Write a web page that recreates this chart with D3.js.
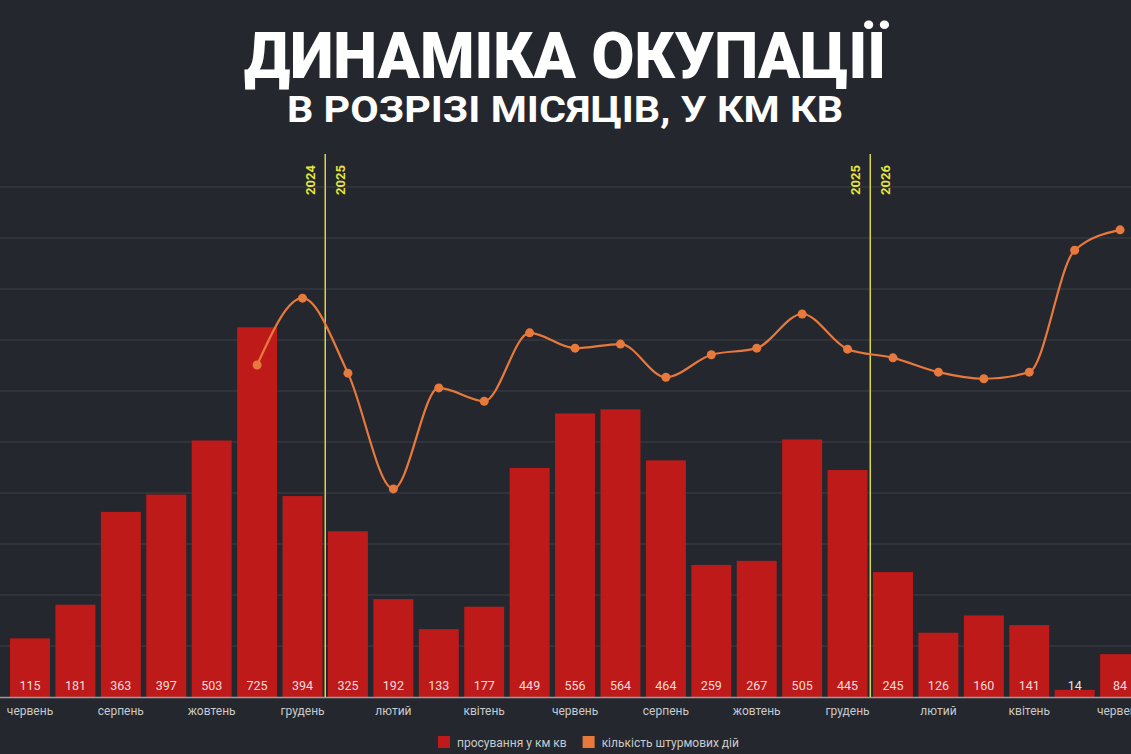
<!DOCTYPE html>
<html><head><meta charset="utf-8">
<script src="https://cdn.jsdelivr.net/npm/d3@7"></script>
<style>
html,body{margin:0;padding:0;background:#24272d;}
svg{display:block;}
</style></head>
<body>
<svg id="chart" width="1131" height="754"></svg>
<script>
// ---- data ----
const months = ["червень","липень","серпень","вересень","жовтень","листопад","грудень",
  "січень","лютий","березень","квітень","травень","червень","липень","серпень","вересень","жовтень","листопад","грудень",
  "січень","лютий","березень","квітень","травень","червень"];
const areaKm2 = [115,181,363,397,503,725,394,325,192,133,177,449,556,564,464,259,267,505,445,245,126,160,141,14,84];
const assaults = [null,null,null,null,null,6510,7820,6350,4080,6060,5800,7140,6840,6920,6270,6710,6840,7510,6820,6650,6370,6240,6370,8760,9160];
const tickIdx = [0,2,4,6,8,10,12,14,16,18,20,22,24];
const yearBreaks = [{after:6, left:"2024", right:"2025"},{after:18, left:"2025", right:"2026"}];
const gridTicks = [100,200,300,400,500,600,700,800,900,1000];
const legendItems = [{label:"просування у км кв", color:"#bf1a1a"},{label:"кількість штурмових дій", color:"#e8793c"}];

const svg = d3.select("#chart");
const W = 1131, H = 754;
svg.append("rect").attr("width",W).attr("height",H).attr("fill","#24272d");

// title
svg.append("text").attr("x",565).attr("y",78).attr("text-anchor","middle")
  .attr("font-family","Roboto").attr("font-weight",900).attr("font-size",64)
  .attr("fill","#ffffff").attr("textLength",642).attr("lengthAdjust","spacingAndGlyphs")
  .text("ДИНАМІКА ОКУПАЦІЇ");
svg.append("text").attr("x",565).attr("y",122).attr("text-anchor","middle")
  .attr("font-family","Roboto").attr("font-weight",700).attr("font-size",36)
  .attr("fill","#ffffff").attr("textLength",556).attr("lengthAdjust","spacingAndGlyphs")
  .text("В РОЗРІЗІ МІСЯЦІВ, У КМ КВ");

// scales
const x = d3.scaleBand().domain(d3.range(months.length)).range([7.3,1142.8]).paddingInner(0.12).paddingOuter(0.06);
const y = d3.scaleLinear().domain([0,1000]).range([697,187]);
const y2 = d3.scaleLinear().domain([0,10000]).range([697,187]);

// gridlines
svg.append("g").selectAll("line").data(gridTicks).join("line")
  .attr("x1",0).attr("x2",W).attr("y1",d=>y(d)).attr("y2",d=>y(d))
  .attr("stroke","#3d4047").attr("stroke-width",1.2);

// bars
svg.append("g").selectAll("rect").data(areaKm2).join("rect")
  .attr("x",(d,i)=>x(i)).attr("width",x.bandwidth())
  .attr("y",d=>y(d)).attr("height",d=>y(0)-y(d))
  .attr("fill","#bf1a1a");

// bar labels
svg.append("g").selectAll("text").data(areaKm2).join("text")
  .attr("x",(d,i)=>x(i)+x.bandwidth()/2).attr("y",690)
  .attr("text-anchor","middle").attr("font-family","Roboto").attr("font-size",12.5)
  .attr("fill",d=>d<30?"#e6e6e6":"#f6dada").text(d=>d);

// baseline
svg.append("line").attr("x1",0).attr("x2",W).attr("y1",y(0)+0.5).attr("y2",y(0)+0.5)
  .attr("stroke","#9a9ca0").attr("stroke-width",1.5);

// x labels
svg.append("g").selectAll("text").data(tickIdx).join("text")
  .attr("x",i=>x(i)+x.bandwidth()/2).attr("y",715)
  .attr("text-anchor","middle").attr("font-family","Roboto").attr("font-size",12)
  .attr("fill","#c9cacc").text(i=>months[i]);

// year separators
const yg = svg.append("g");
yearBreaks.forEach(b=>{
  const xs = (x(b.after)+x.bandwidth() + x(b.after+1))/2;
  yg.append("line").attr("x1",xs).attr("x2",xs).attr("y1",154).attr("y2",y(0))
    .attr("stroke","#d9d64a").attr("stroke-width",1.5);
  yg.append("text").attr("transform",`translate(${xs-10},180) rotate(-90)`)
    .attr("text-anchor","middle").attr("font-family","Roboto").attr("font-weight",700)
    .attr("font-size",13).attr("fill","#e8e43c").text(b.left);
  yg.append("text").attr("transform",`translate(${xs+20},180) rotate(-90)`)
    .attr("text-anchor","middle").attr("font-family","Roboto").attr("font-weight",700)
    .attr("font-size",13).attr("fill","#e8e43c").text(b.right);
});

// line
const pts = assaults.map((v,i)=>({i,v})).filter(d=>d.v!==null);
const line = d3.line().x(d=>x(d.i)+x.bandwidth()/2).y(d=>y2(d.v)).curve(d3.curveMonotoneX);
svg.append("path").datum(pts).attr("d",line).attr("fill","none")
  .attr("stroke","#e8793c").attr("stroke-width",2.2);
svg.append("g").selectAll("circle").data(pts).join("circle")
  .attr("cx",d=>x(d.i)+x.bandwidth()/2).attr("cy",d=>y2(d.v)).attr("r",4.5)
  .attr("fill","#e8793c");

// legend
const lg = svg.append("g");
let lx = 438;
legendItems.forEach((it,k)=>{
  const g = lg.append("g").attr("transform",`translate(${lx},736)`);
  g.append("rect").attr("width",12).attr("height",12).attr("fill",it.color);
  const t = g.append("text").attr("x",19).attr("y",10.5).attr("font-family","Roboto")
    .attr("font-size",12).attr("fill","#c9cacc").text(it.label);
  lx += 19 + t.node().getComputedTextLength() + 16;
});
</script>
</body></html>
